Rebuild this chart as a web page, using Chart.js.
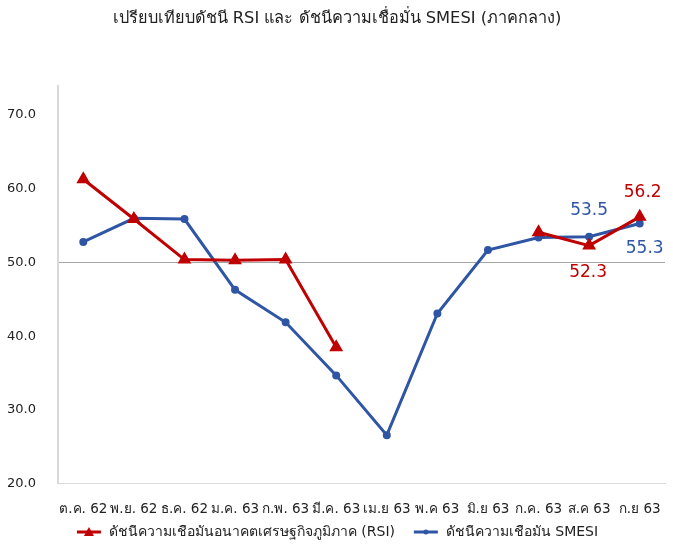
<!DOCTYPE html>
<html>
<head>
<meta charset="utf-8">
<script src="https://cdn.jsdelivr.net/npm/chart.js@4"></script>
<style>
    html, body { margin: 0; padding: 0; background: #fff; }
    #wrap { width: 673px; height: 549px; }
</style>
</head>
<body>
<div id="wrap"><canvas id="chart-rsi"></canvas></div>
<script>
const months = ['ต.ค. 62', 'พ.ย. 62', 'ธ.ค. 62', 'ม.ค. 63', 'ก.พ. 63', 'มี.ค. 63', 'เม.ย 63', 'พ.ค 63', 'มิ.ย 63', 'ก.ค. 63', 'ส.ค 63', 'ก.ย 63'];
const rsiValues = [61.3, 55.9, 50.4, 50.3, 50.4, 38.5, null, null, null, 54.1, 52.3, 56.2];
const smesiValues = [52.8, 56.0, 55.9, 46.3, 41.9, 34.7, 26.6, 43.1, 51.7, 53.4, 53.5, 55.3];
const yTicks = [20, 30, 40, 50, 60, 70];

const RED = '#C00000';
const BLUE = '#2F55A5';
const FONT = "Tahoma, 'DejaVu Sans', 'Noto Sans', sans-serif";

function legendIcon(color, marker) {
    const c = document.createElement('canvas');
    c.width = 26; c.height = 14;
    const g = c.getContext('2d');
    g.strokeStyle = color; g.fillStyle = color; g.lineWidth = 3;
    g.beginPath(); g.moveTo(1, 7); g.lineTo(25, 7); g.stroke();
    g.beginPath();
    if (marker === 'triangle') {
        g.moveTo(13, 2); g.lineTo(18, 11); g.lineTo(8, 11); g.closePath();
    } else {
        g.arc(13, 7, 2.5, 0, Math.PI * 2);
    }
    g.fill();
    return c;
}

// value labels on the last points
const valueLabels = {
    id: 'valueLabels',
    afterDatasetsDraw(chart) {
        const ctx = chart.ctx;
        const items = [
            { ds: 0, i: 11, dx: 3, dy: -24, color: RED },
            { ds: 0, i: 10, dx: -1, dy: 27, color: RED },
            { ds: 1, i: 10, dx: 0, dy: -26, color: BLUE },
            { ds: 1, i: 11, dx: 5, dy: 25, color: BLUE }
        ];
        ctx.save();
        ctx.font = "17px " + FONT;
        ctx.textAlign = 'center';
        ctx.textBaseline = 'middle';
        items.forEach(it => {
            const pt = chart.getDatasetMeta(it.ds).data[it.i];
            const val = chart.data.datasets[it.ds].data[it.i];
            ctx.fillStyle = it.color;
            ctx.fillText(val.toFixed(1), pt.x + it.dx, pt.y + it.dy);
        });
        ctx.restore();
    }
};

new Chart(document.getElementById('chart-rsi'), {
    type: 'line',
    data: {
        labels: months,
        datasets: [{
            label: 'ดัชนีความเชื่อมั่นอนาคตเศรษฐกิจภูมิภาค (RSI)',
            data: rsiValues,
            borderColor: RED,
            backgroundColor: RED,
            borderWidth: 3,
            pointStyle: 'triangle',
            pointRadius: 5,
            pointHoverRadius: 5,
            spanGaps: false,
            tension: 0
        }, {
            label: 'ดัชนีความเชื่อมั่น SMESI',
            data: smesiValues,
            borderColor: BLUE,
            backgroundColor: BLUE,
            borderWidth: 3,
            pointStyle: 'circle',
            pointRadius: 2.5,
            pointHoverRadius: 2.5,
            tension: 0
        }]
    },
    options: {
        responsive: true,
        maintainAspectRatio: false,
        animation: false,
        layout: { padding: { left: 6, right: 5, top: 0, bottom: 0 } },
        plugins: {
            title: {
                display: true,
                text: 'เปรียบเทียบดัชนี RSI และ ดัชนีความเชื่อมั่น SMESI (ภาคกลาง)',
                color: '#222',
                font: { family: FONT, size: 16.3, weight: 'normal' },
                padding: { top: 9, bottom: 57 }
            },
            legend: {
                position: 'bottom',
                labels: {
                    color: '#222',
                    font: { family: FONT, size: 14 },
                    usePointStyle: true,
                    pointStyleWidth: 26,
                    padding: 0,
                    generateLabels(chart) {
                        // trailing spaces keep a gap between the two entries
                        return chart.data.datasets.map((ds, i) => ({
                            text: i === 0 ? ds.label + '    ' : ds.label,
                            fontColor: '#222',
                            pointStyle: legendIcon(ds.borderColor, i === 0 ? 'triangle' : 'circle'),
                            datasetIndex: i,
                            hidden: false,
                            lineWidth: 0
                        }));
                    }
                }
            },
            tooltip: { enabled: false }
        },
        scales: {
            x: {
                offset: true,
                afterFit(axis) {
                    axis.height -= 11;
                    axis.paddingLeft = 0;
                    axis.paddingRight = 0;
                },
                grid: { display: false, drawTicks: false },
                border: { color: '#d9d9d9', width: 1 },
                ticks: {
                    color: '#222',
                    font: { family: FONT, size: 13.5 },
                    autoSkip: false,
                    maxRotation: 0,
                    padding: 18
                }
            },
            y: {
                min: 20,
                max: 74,
                afterBuildTicks(axis) {
                    axis.ticks = yTicks.map(v => ({ value: v }));
                },
                afterFit(axis) { axis.width = 52; },
                grid: {
                    drawTicks: false,
                    color: ctx => ctx.tick && ctx.tick.value === 50 ? '#a6a6a6' : 'rgba(0,0,0,0)'
                },
                border: { color: '#d9d9d9', width: 2 },
                ticks: {
                    color: '#222',
                    font: { family: FONT, size: 13 },
                    padding: 22,
                    callback: v => Number(v).toFixed(1)
                }
            }
        }
    },
    plugins: [valueLabels]
});
</script>
</body>
</html>
